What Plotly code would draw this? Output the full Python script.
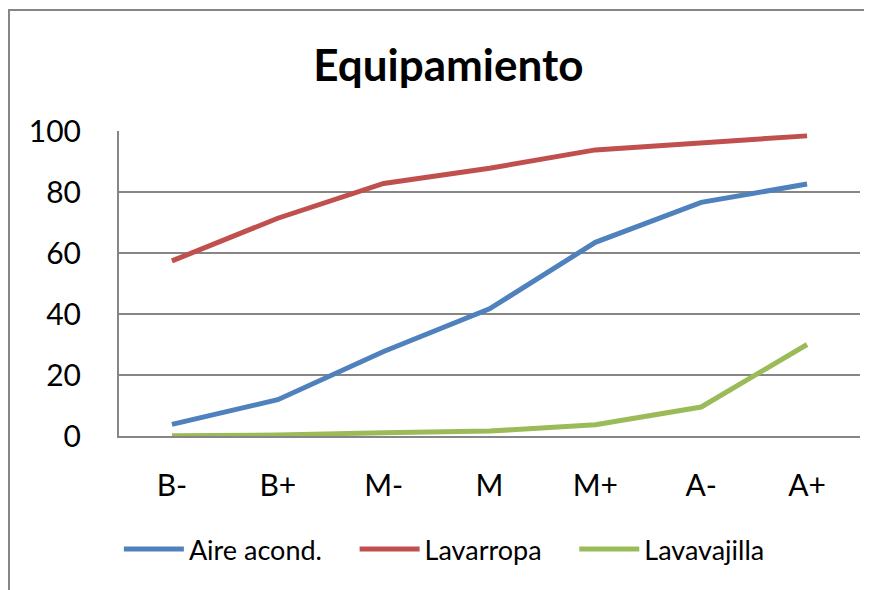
import plotly.graph_objects as go

# ---------------------- Data ----------------------
categories = ["B-", "B+", "M-", "M", "M+", "A-", "A+"]
aire_acond = [3.8, 11.9, 27.7, 41.7, 63.5, 76.6, 82.6]
lavarropa = [57.4, 71.4, 82.8, 87.8, 93.8, 95.9, 98.4]
lavavajilla = [0.1, 0.3, 1.1, 1.6, 3.7, 9.5, 30.0]

series = [
    ("Aire acond.", aire_acond, "#4F81BD"),
    ("Lavarropa", lavarropa, "#C0504D"),
    ("Lavavajilla", lavavajilla, "#9BBB59"),
]

FONT = "Lato, Calibri, 'Open Sans', sans-serif"
GRAY = "#868686"
PAD = "\u00a0" * 4  # extra room between legend entries

fig = go.Figure()
for name, vals, color in series:
    fig.add_trace(go.Scatter(
        x=categories, y=vals, name=name + PAD, mode="lines",
        line=dict(color=color, width=5),
    ))

# page adds an 8px body margin, so the figure's own margins are shifted by that
fig.update_layout(
    width=872, height=590,
    margin=dict(l=111, r=20, t=123, b=162),
    paper_bgcolor="white", plot_bgcolor="white",
    font=dict(family=FONT, color="black"),
    title=dict(text="<b>Equipamiento</b>", x=0.505, xanchor="center",
               y=0.903, yanchor="middle", font=dict(size=44)),
    showlegend=True,
    legend=dict(orientation="h", x=0.458, xanchor="center", y=-0.372, yanchor="middle",
                font=dict(size=27), itemwidth=60, tracegroupgap=0),
    hovermode=False,
)

fig.update_xaxes(
    range=[-0.5, 6.5], showgrid=False, showline=True, linecolor=GRAY, linewidth=2,
    ticks="", tickfont=dict(size=30), ticklabelstandoff=22,
)
fig.update_yaxes(
    range=[0, 100], dtick=20, showgrid=True, gridcolor=GRAY, gridwidth=1.8,
    showline=True, linecolor=GRAY, linewidth=2, zeroline=False,
    ticks="", tickfont=dict(size=30), ticklabelstandoff=30,
)

# outer chart border (runs past the bottom/right edge of the picture)
fig.add_shape(type="rect", xref="paper", yref="paper",
              x0=(1 - 111) / 741, x1=1.5, y0=-1.0, y1=(428 - 2) / 305,
              line=dict(color=GRAY, width=2), layer="below")

fig.write_html("out.html")
